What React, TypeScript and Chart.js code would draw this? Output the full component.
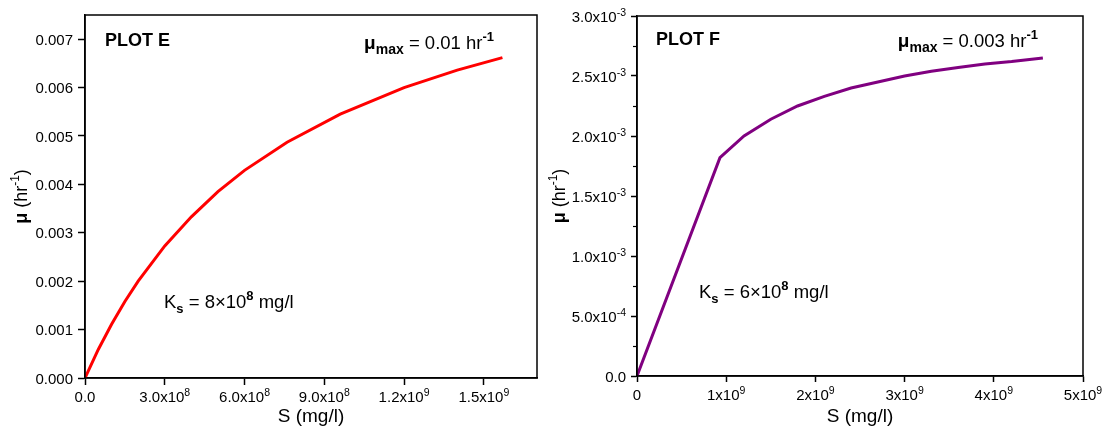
import React, { useEffect, useRef } from "react";
import { Chart, registerables } from "chart.js";

Chart.register(...registerables);

const FONT = "'Liberation Sans', Arial, Helvetica, sans-serif";

// Plot E: Monod growth curve, μmax = 0.01 hr⁻¹, Ks = 8×10⁸ mg/l
const substrateE = [0, 5e7, 1e8, 1.5e8, 2e8, 3e8, 4e8, 5e8, 6e8, 7.6e8, 9.6e8, 1.2e9, 1.4e9, 1.57e9];
const rateE = [0, 0.00059, 0.00111, 0.00158, 0.002, 0.00273, 0.00333, 0.00385, 0.00429, 0.00487, 0.00545, 0.006, 0.00636, 0.00662];
const xTicksE = [0, 3e8, 6e8, 9e8, 1.2e9, 1.5e9];
const xTickLabelsE = ["0.0", "3.0x10^8", "6.0x10^8", "9.0x10^8", "1.2x10^9", "1.5x10^9"];
const yTicksE = [0, 0.001, 0.002, 0.003, 0.004, 0.005, 0.006, 0.007];
const yTickLabelsE = ["0.000", "0.001", "0.002", "0.003", "0.004", "0.005", "0.006", "0.007"];

// Plot F: Monod growth curve, μmax = 0.003 hr⁻¹, Ks = 6×10⁸ mg/l
const substrateF = [0, 9.3e8, 1.2e9, 1.5e9, 1.8e9, 2.1e9, 2.4e9, 2.7e9, 3.0e9, 3.3e9, 3.6e9, 3.9e9, 4.2e9, 4.55e9];
const rateF = [0, 0.00182, 0.002, 0.00214, 0.00225, 0.00233, 0.0024, 0.00245, 0.0025, 0.00254, 0.00257, 0.0026, 0.00262, 0.00265];
const xTicksF = [0, 1e9, 2e9, 3e9, 4e9, 5e9];
const xTickLabelsF = ["0", "1x10^9", "2x10^9", "3x10^9", "4x10^9", "5x10^9"];
const yTicksF = [0, 0.0005, 0.001, 0.0015, 0.002, 0.0025, 0.003];
const yTickLabelsF = ["0.0", "5.0x10^-4", "1.0x10^-3", "1.5x10^-3", "2.0x10^-3", "2.5x10^-3", "3.0x10^-3"];
const yMinorTicksF = [0.00025, 0.00075, 0.00125, 0.00175, 0.00225, 0.00275];

type Run = { text: string; size: number; bold?: boolean; shift?: number };

function drawRuns(ctx: CanvasRenderingContext2D, runs: Run[], x: number, y: number, align: "left" | "center" | "right") {
  const fontOf = (r: Run) => `${r.bold ? "bold " : ""}${r.size}px ${FONT}`;
  const widths = runs.map((r) => {
    ctx.font = fontOf(r);
    return ctx.measureText(r.text).width;
  });
  const total = widths.reduce((a, b) => a + b, 0);
  let cx = align === "center" ? x - total / 2 : align === "right" ? x - total : x;
  ctx.textAlign = "left";
  ctx.textBaseline = "alphabetic";
  ctx.fillStyle = "#000";
  runs.forEach((r, i) => {
    ctx.font = fontOf(r);
    ctx.fillText(r.text, cx, y + (r.shift || 0));
    cx += widths[i];
  });
}

// "3.0x10^8" -> base text plus raised exponent
function tickRuns(label: string): Run[] {
  const [base, exp] = label.split("^");
  const runs: Run[] = [{ text: base, size: 15 }];
  if (exp) runs.push({ text: exp, size: 10.5, shift: -6 });
  return runs;
}

const muTitle: Run[] = [
  { text: "μ", size: 18, bold: true },
  { text: " (hr", size: 18 },
  { text: "-1", size: 12, shift: -8 },
  { text: ")", size: 18 },
];
const sTitle: Run[] = [{ text: "S (mg/l)", size: 19 }];

type Panel = {
  left: number;
  width: number;
  xs: number[];
  ys: number[];
  color: string;
  xMax: number;
  yMax: number;
  xTicks: number[];
  xLabels: string[];
  yTicks: number[];
  yLabels: string[];
  yMinor: number[];
  yAxisWidth: number;
  xAxisHeight: number;
  padTop: number;
  padRight: number;
  tickLength: number;
  yTitleOffset: number;
  name: string;
  nameAt: [number, number];
  muRuns: Run[];
  muAt: [number, number];
  ksRuns: Run[];
  ksAt: [number, number];
};

const panelE: Panel = {
  left: 0,
  width: 545,
  xs: substrateE,
  ys: rateE,
  color: "#ff0000",
  xMax: 1.7e9,
  yMax: 0.0075,
  xTicks: xTicksE,
  xLabels: xTickLabelsE,
  yTicks: yTicksE,
  yLabels: yTickLabelsE,
  yMinor: [],
  yAxisWidth: 85,
  xAxisHeight: 52,
  padTop: 15,
  padRight: 8,
  tickLength: 7,
  yTitleOffset: 64,
  name: "PLOT E",
  nameAt: [20, 31],
  muRuns: [
    { text: "μ", size: 19, bold: true },
    { text: "max", size: 14, bold: true, shift: 5 },
    { text: " = 0.01 hr", size: 18.5 },
    { text: "-1", size: 13, bold: true, shift: -8 },
  ],
  muAt: [43, 34],
  ksRuns: [
    { text: "K", size: 18.5 },
    { text: "s", size: 13, bold: true, shift: 5 },
    { text: " = 8×10", size: 18.5 },
    { text: "8", size: 13, bold: true, shift: -8 },
    { text: " mg/l", size: 18.5 },
  ],
  ksAt: [79, 70],
};

const panelF: Panel = {
  left: 545,
  width: 562,
  xs: substrateF,
  ys: rateF,
  color: "#800080",
  xMax: 5e9,
  yMax: 0.003,
  xTicks: xTicksF,
  xLabels: xTickLabelsF,
  yTicks: yTicksF,
  yLabels: yTickLabelsF,
  yMinor: yMinorTicksF,
  yAxisWidth: 92,
  xAxisHeight: 54,
  padTop: 16,
  padRight: 24,
  tickLength: 6,
  yTitleOffset: 78,
  name: "PLOT F",
  nameAt: [19, 29],
  muRuns: [
    { text: "μ", size: 19, bold: true },
    { text: "max", size: 14, bold: true, shift: 5 },
    { text: " = 0.003 hr", size: 18.5 },
    { text: "-1", size: 13, bold: true, shift: -8 },
  ],
  muAt: [45, 31],
  ksRuns: [
    { text: "K", size: 18.5 },
    { text: "s", size: 13, bold: true, shift: 5 },
    { text: " = 6×10", size: 18.5 },
    { text: "8", size: 13, bold: true, shift: -8 },
    { text: " mg/l", size: 18.5 },
  ],
  ksAt: [62, 78],
};

function PanelChart({ p }: { p: Panel }) {
  const ref = useRef<HTMLCanvasElement>(null);

  useEffect(() => {
    if (!ref.current) return;

    const decorations = {
      id: "decorations",
      afterDraw(chart: any) {
        const ctx: CanvasRenderingContext2D = chart.ctx;
        const a = chart.chartArea;
        const xScale = chart.scales.x;
        const yScale = chart.scales.y;
        ctx.save();
        // frame around the plot area
        ctx.strokeStyle = "#000";
        ctx.lineWidth = 1.5;
        ctx.strokeRect(a.left, a.top, a.right - a.left, a.bottom - a.top);
        // minor ticks on the value axis
        ctx.lineWidth = 1.2;
        p.yMinor.forEach((v) => {
          const py = Math.round(yScale.getPixelForValue(v)) + 0.5;
          ctx.beginPath();
          ctx.moveTo(a.left - 4, py);
          ctx.lineTo(a.left, py);
          ctx.stroke();
        });
        // tick labels with raised exponents
        xScale.ticks.forEach((t: any, i: number) => {
          const px = xScale.getPixelForValue(t.value);
          drawRuns(ctx, tickRuns(p.xLabels[i]), px, a.bottom + 24, "center");
        });
        yScale.ticks.forEach((t: any, i: number) => {
          const py = yScale.getPixelForValue(t.value);
          drawRuns(ctx, tickRuns(p.yLabels[i]), a.left - p.tickLength - 5, py + 5.5, "right");
        });
        // axis titles
        drawRuns(ctx, sTitle, (a.left + a.right) / 2, 422, "center");
        ctx.save();
        ctx.translate(a.left - p.yTitleOffset, (a.top + a.bottom) / 2);
        ctx.rotate(-Math.PI / 2);
        drawRuns(ctx, muTitle, 0, 6, "center");
        ctx.restore();
        // annotations
        drawRuns(ctx, [{ text: p.name, size: 18, bold: true }], a.left + p.nameAt[0], a.top + p.nameAt[1], "left");
        drawRuns(ctx, p.muRuns, a.right - p.muAt[0], a.top + p.muAt[1], "right");
        drawRuns(ctx, p.ksRuns, a.left + p.ksAt[0], a.bottom - p.ksAt[1], "left");
        ctx.restore();
      },
    };

    const chart = new Chart(ref.current, {
      type: "line",
      data: {
        datasets: [
          {
            data: p.xs.map((x, i) => ({ x, y: p.ys[i] })),
            borderColor: p.color,
            backgroundColor: p.color,
            borderWidth: 3,
            pointRadius: 0,
            tension: 0,
            fill: false,
          },
        ],
      },
      options: {
        animation: false,
        responsive: false,
        devicePixelRatio: 1,
        layout: { padding: { left: 0, top: p.padTop, right: p.padRight, bottom: 0 } },
        plugins: { legend: { display: false }, tooltip: { enabled: false } },
        scales: {
          x: {
            type: "linear",
            min: 0,
            max: p.xMax,
            afterBuildTicks: (s: any) => {
              s.ticks = p.xTicks.map((v) => ({ value: v }));
            },
            afterFit: (s: any) => {
              s.height = p.xAxisHeight;
            },
            ticks: { display: false, autoSkip: false, maxRotation: 0 },
            grid: { drawOnChartArea: false, drawTicks: true, tickLength: p.tickLength, tickColor: "#000", tickWidth: 1.5 },
            border: { display: true, color: "#000", width: 1.5 },
          },
          y: {
            type: "linear",
            min: 0,
            max: p.yMax,
            afterBuildTicks: (s: any) => {
              s.ticks = p.yTicks.map((v) => ({ value: v }));
            },
            afterFit: (s: any) => {
              s.width = p.yAxisWidth;
            },
            ticks: { display: false, autoSkip: false },
            grid: { drawOnChartArea: false, drawTicks: true, tickLength: p.tickLength, tickColor: "#000", tickWidth: 1.5 },
            border: { display: true, color: "#000", width: 1.5 },
          },
        },
      } as any,
      plugins: [decorations],
    });

    return () => chart.destroy();
  }, [p]);

  return (
    <canvas
      ref={ref}
      width={p.width}
      height={430}
      style={{ position: "absolute", left: p.left, top: 0, width: p.width, height: 430 }}
    />
  );
}

export default function App() {
  return (
    <div style={{ position: "absolute", left: 0, top: 0, width: 1107, height: 430, background: "#fff" }}>
      <PanelChart p={panelE} />
      <PanelChart p={panelF} />
    </div>
  );
}
